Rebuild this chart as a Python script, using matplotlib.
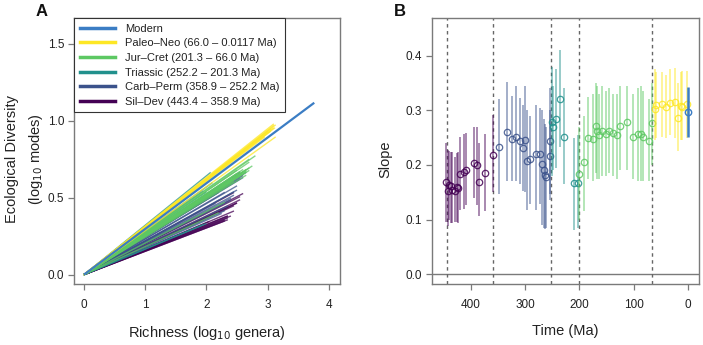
import matplotlib
matplotlib.use("Agg")
import matplotlib.pyplot as plt
from matplotlib.lines import Line2D

plt.rcParams['font.family'] = ['Liberation Sans', 'DejaVu Sans']

# period colours (viridis-like) and labels
periods = ['Sil-Dev', 'Carb-Perm', 'Triassic', 'Jur-Cret', 'Paleo-Neo']
period_labels = ['Sil\u2013Dev (443.4 \u2013 358.9 Ma)',
                 'Carb\u2013Perm (358.9 \u2013 252.2 Ma)',
                 'Triassic (252.2 \u2013 201.3 Ma)',
                 'Jur\u2013Cret (201.3 \u2013 66.0 Ma)',
                 'Paleo\u2013Neo (66.0 \u2013 0.0117 Ma)']
period_colors = ['#440154', '#3B528B', '#21908C', '#5DC863', '#FDE725']
modern_color = '#3B7DC4'
boundaries = [443.4, 358.9, 252.2, 201.3, 66.0]

# time (Ma), slope, CI low/high, log10 richness for each interval
sildev_time = [445, 441.6, 439.7, 435.5, 433.7, 429.3, 425.6, 423, 420, 412.3, 408.6, 394.5, 388.5, 384.2, 373.3, 359.7]
sildev_slope = [0.169, 0.152, 0.163, 0.162, 0.155, 0.152, 0.159, 0.157, 0.183, 0.187, 0.191, 0.203, 0.199, 0.169, 0.186, 0.218]
sildev_lo = [0.095, 0.088, 0.100, 0.094, 0.093, 0.095, 0.096, 0.094, 0.118, 0.120, 0.126, 0.140, 0.126, 0.106, 0.116, 0.150]
sildev_hi = [0.240, 0.227, 0.226, 0.223, 0.224, 0.215, 0.222, 0.224, 0.252, 0.257, 0.258, 0.270, 0.269, 0.240, 0.256, 0.292]
sildev_rich = [2.05, 2.3, 2.35, 2.35, 2.3, 2.35, 2.4, 2.35, 2.45, 2.5, 2.55, 2.6, 2.55, 2.45, 2.5, 2.45]

carb_time = [347.6, 332.2, 323.8, 315.8, 308.4, 303.6, 299.3, 296.3, 290.1, 279.9, 272.5, 268.9, 265.8, 262.6, 260.8, 254.2, 253.1]
carb_slope = [0.233, 0.261, 0.248, 0.251, 0.243, 0.231, 0.245, 0.207, 0.211, 0.220, 0.220, 0.202, 0.190, 0.181, 0.177, 0.243, 0.216]
carb_lo = [0.147, 0.170, 0.170, 0.170, 0.165, 0.153, 0.150, 0.117, 0.128, 0.117, 0.128, 0.090, 0.085, 0.083, 0.085, 0.146, 0.135]
carb_hi = [0.321, 0.351, 0.326, 0.345, 0.323, 0.310, 0.345, 0.300, 0.290, 0.310, 0.305, 0.300, 0.285, 0.275, 0.270, 0.340, 0.300]
carb_rich = [2.3, 2.55, 2.6, 2.65, 2.6, 2.5, 2.55, 2.4, 2.45, 2.5, 2.45, 2.4, 2.35, 2.3, 2.25, 2.2, 2.15]

tri_time = [251.1, 248.7, 242.5, 235.2, 228.6, 209.5, 201.6]
tri_slope = [0.279, 0.269, 0.285, 0.321, 0.252, 0.166, 0.167]
tri_lo = [0.180, 0.190, 0.195, 0.232, 0.165, 0.080, 0.085]
tri_hi = [0.380, 0.345, 0.375, 0.410, 0.340, 0.250, 0.255]
tri_rich = [1.95, 2.0, 2.1, 2.07, 2.1, 2.0, 1.95]

jur_time = [199.8, 191.2, 183.3, 174.8, 169.3, 166.8, 163.2, 158.9, 150.9, 144.9, 138.8, 131.5, 125.3, 113.2, 100.9, 93.0, 86.8, 83.2, 72.2, 66.7]
jur_slope = [0.183, 0.205, 0.250, 0.247, 0.272, 0.263, 0.254, 0.263, 0.257, 0.263, 0.258, 0.254, 0.271, 0.278, 0.252, 0.257, 0.257, 0.251, 0.244, 0.276]
jur_lo = [0.100, 0.115, 0.175, 0.170, 0.185, 0.175, 0.175, 0.180, 0.180, 0.185, 0.180, 0.175, 0.190, 0.190, 0.175, 0.170, 0.170, 0.170, 0.170, 0.200]
jur_hi = [0.270, 0.290, 0.325, 0.330, 0.350, 0.345, 0.330, 0.345, 0.335, 0.340, 0.330, 0.330, 0.345, 0.345, 0.330, 0.340, 0.345, 0.335, 0.320, 0.350]
jur_rich = [2.2, 2.3, 2.4, 2.45, 2.5, 2.5, 2.55, 2.55, 2.6, 2.6, 2.65, 2.65, 2.7, 2.7, 2.65, 2.7, 2.75, 2.7, 2.65, 2.8]

paleo_time = [61.2, 58.2, 48.4, 40.0, 32.6, 24.6, 19.1, 13.6, 10.6, 1.5]
paleo_slope = [0.303, 0.310, 0.311, 0.306, 0.313, 0.316, 0.286, 0.308, 0.306, 0.311]
paleo_lo = [0.245, 0.250, 0.252, 0.250, 0.255, 0.250, 0.225, 0.245, 0.245, 0.250]
paleo_hi = [0.375, 0.370, 0.370, 0.365, 0.375, 0.378, 0.350, 0.370, 0.372, 0.372]
paleo_rich = [2.95, 3.0, 3.05, 3.05, 3.1, 3.1, 3.13, 3.1, 3.12, 3.13]

modern_time = 0.0
modern_slope = 0.297
modern_lo = 0.252
modern_hi = 0.342
modern_rich = 3.76

groups = [
    (sildev_time, sildev_slope, sildev_lo, sildev_hi, sildev_rich),
    (carb_time, carb_slope, carb_lo, carb_hi, carb_rich),
    (tri_time, tri_slope, tri_lo, tri_hi, tri_rich),
    (jur_time, jur_slope, jur_lo, jur_hi, jur_rich),
    (paleo_time, paleo_slope, paleo_lo, paleo_hi, paleo_rich),
]

frame_col = '#7a7a7a'
text_col = '#222222'

fig = plt.figure(figsize=(7.03, 3.45), dpi=100)
axA = fig.add_axes([74 / 703, 1 - 284 / 345, 266 / 703, 266 / 345])
axB = fig.add_axes([432 / 703, 1 - 284 / 345, 267 / 703, 266 / 345])


def style(ax):
    for s in ax.spines.values():
        s.set_color(frame_col)
        s.set_linewidth(1.0)
    ax.tick_params(colors=frame_col, labelcolor=text_col, labelsize=8.5,
                   length=4, width=0.9)
    ax.tick_params(axis='x', pad=7)
    ax.tick_params(axis='y', pad=3)


# ---- panel A: slope lines from origin
for (t, s, lo, hi, r), col in zip(groups, period_colors):
    for si, ri in zip(s, r):
        axA.plot([0, ri], [0, si * ri], color=col, lw=1.0, alpha=0.75,
                 solid_capstyle='butt')
axA.plot([0, modern_rich], [0, modern_slope * modern_rich], color=modern_color,
         lw=1.6, solid_capstyle='butt')

axA.set_xlim(-0.16, 4.18)
axA.set_ylim(-0.06, 1.667)
axA.set_xticks([0, 1, 2, 3, 4])
axA.set_yticks([0.0, 0.5, 1.0, 1.5])
axA.set_yticklabels(['0.0', '0.5', '1.0', '1.5'])
style(axA)
axA.set_xlabel('Richness (log$_{10}$ genera)', fontsize=10.5, color=text_col, labelpad=9)
axA.set_ylabel('Ecological Diversity\n(log$_{10}$ modes)', fontsize=10.5,
               color=text_col, linespacing=1.6)
axA.yaxis.set_label_coords(-0.11, 0.47)

handles = [Line2D([], [], color=modern_color, lw=2.5)]
labels = ['Modern']
for col, lab in zip(period_colors[::-1], period_labels[::-1]):
    handles.append(Line2D([], [], color=col, lw=2.5))
    labels.append(lab)
leg = axA.legend(handles, labels, loc='upper left', bbox_to_anchor=(0, 1),
                 borderaxespad=0, fancybox=False, framealpha=1, fontsize=8,
                 handlelength=3.2, handletextpad=0.9, labelspacing=0.42,
                 borderpad=0.5)
leg.get_frame().set_edgecolor('#333333')
leg.get_frame().set_linewidth(0.8)
for txt in leg.get_texts():
    txt.set_color(text_col)

# ---- panel B: slopes through time
axB.axhline(0, color=frame_col, lw=1.0)
for b in boundaries:
    axB.axvline(b, color='#666666', lw=1.0, ls=(0, (2.5, 2.5)))
for (t, s, lo, hi, r), col in zip(groups, period_colors):
    axB.vlines(t, lo, hi, color=col, lw=1.3, alpha=0.5)
    axB.plot(t, s, 'o', mfc='none', mec=col, mew=0.9, ms=4.6, alpha=0.85)
axB.vlines([modern_time], [modern_lo], [modern_hi], color=modern_color, lw=1.8)
axB.plot([modern_time], [modern_slope], 'o', mfc='none', mec=modern_color, mew=1.0, ms=4.6)

axB.set_xlim(471, -20)
axB.set_ylim(-0.018, 0.469)
axB.set_xticks([400, 300, 200, 100, 0])
axB.set_yticks([0.0, 0.1, 0.2, 0.3, 0.4])
axB.set_yticklabels(['0.0', '0.1', '0.2', '0.3', '0.4'])
style(axB)
axB.set_xlabel('Time (Ma)', fontsize=10.5, color=text_col, labelpad=9)
axB.set_ylabel('Slope', fontsize=10.5, color=text_col)
axB.yaxis.set_label_coords(-0.15, 0.47)

fig.text(42 / 703, 1 - 12 / 345, 'A', fontsize=12, fontweight='bold',
         ha='center', va='center', color='#111111')
fig.text(400 / 703, 1 - 12 / 345, 'B', fontsize=12, fontweight='bold',
         ha='center', va='center', color='#111111')

fig.savefig('out.png', dpi=100)
